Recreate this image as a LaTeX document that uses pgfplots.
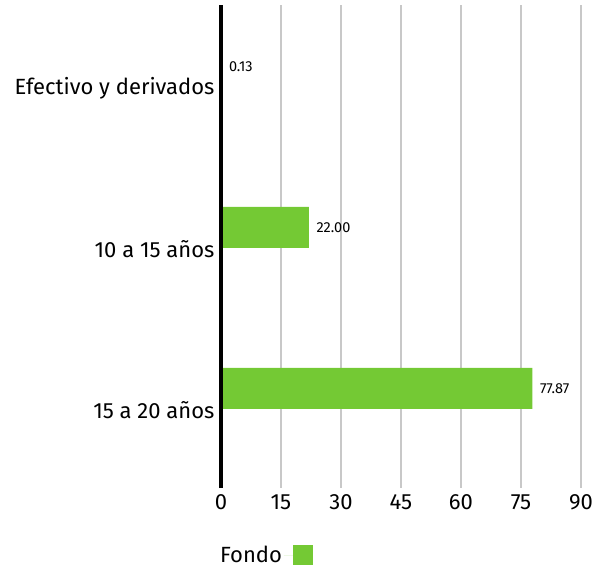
\documentclass[border=0pt]{standalone}
\usepackage{pgfplots}
\pgfplotsset{compat=1.18}
\usepackage{fontspec}
\setmainfont{Fira Sans}
\definecolor{fondo}{HTML}{74C934}
\definecolor{gridgray}{HTML}{C8C8C8}
\begin{document}
\begin{tikzpicture}
\begin{axis}[
    xbar,
    scale only axis,
    width=360pt, height=483pt,
    xmin=0, xmax=90,
    ymin=-0.5, ymax=2.5,
    y dir=reverse,
    xtick={0,15,...,90},
    ytick={0,1,2},
    yticklabels={Efectivo y derivados, 10 a 15 años, 15 a 20 años},
    axis line style={draw=none},
    major tick length=0pt,
    xmajorgrids,
    major grid style={gridgray, line width=2pt},
    tick label style={font=\fontsize{22}{25}\selectfont},
    /pgf/number format/assume math mode=true,
    xticklabel style={yshift=-3pt},
    yticklabel style={xshift=-3pt, yshift=-3pt},
    bar width=0.2547,
    bar shift=-0.1190,
    nodes near coords,
    nodes near coords style={font=\fontsize{14.5}{17}\selectfont, black, xshift=4pt,
        /pgf/number format/.cd, fixed, precision=2, zerofill},
    legend style={at={(0,0)}, anchor=north west, yshift=-54pt, xshift=-6pt,
        draw=none, font=\fontsize{22}{25}\selectfont, legend plot pos=right},
    legend image code/.code={\path (0pt,0pt) -- (29pt,0pt);
        \fill[fondo] (9pt,-10pt) rectangle (29pt,10pt);},
    clip=false,
]
\addplot[fill=fondo, draw=none] coordinates {(0.13,0) (22.00,1) (77.87,2)};
\addlegendentry{Fondo}
\draw[black, line width=4pt] (rel axis cs:0,0) -- (rel axis cs:0,1);
\end{axis}
\pgfresetboundingbox
\useasboundingbox (-221pt,-86pt) rectangle (385pt,488pt);
\end{tikzpicture}
\end{document}
